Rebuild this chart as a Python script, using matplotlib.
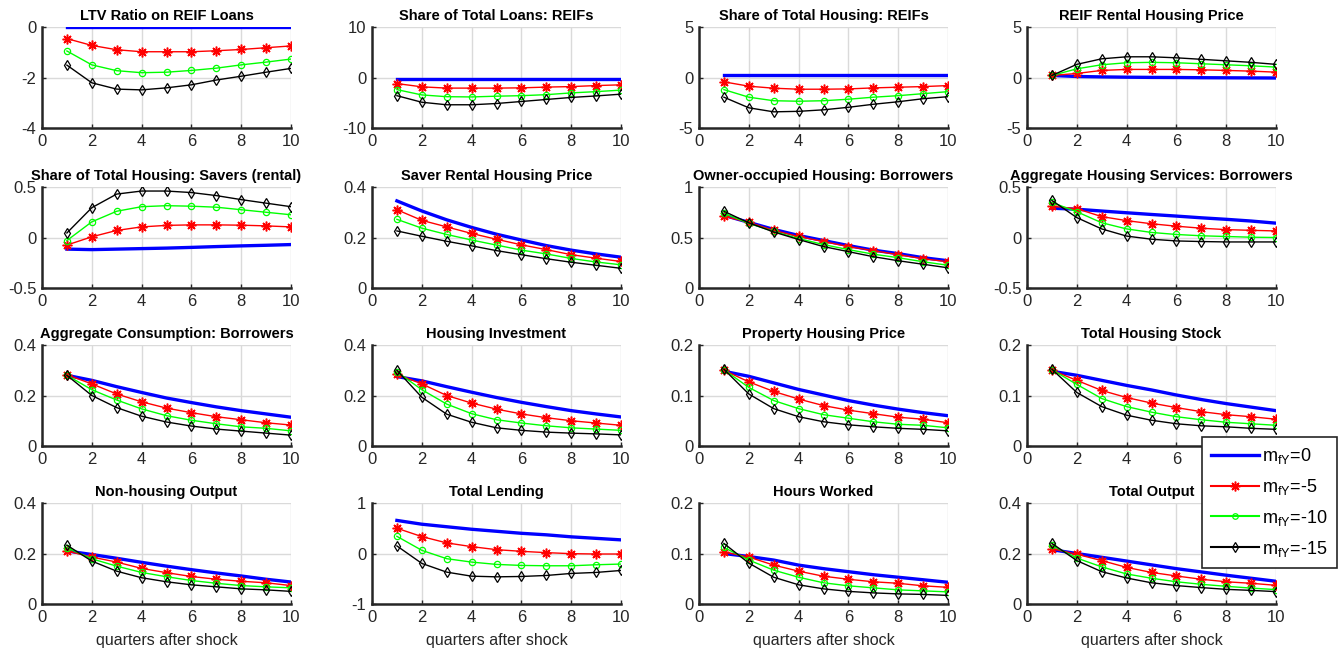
import numpy as np
import matplotlib
matplotlib.use('Agg')
import matplotlib.pyplot as plt
from matplotlib.lines import Line2D

plt.rcParams['font.family'] = ['Liberation Sans', 'DejaVu Sans']
plt.rcParams['mathtext.default'] = 'regular'

quarters = np.arange(1, 11)

titles = ['LTV Ratio on REIF Loans', 'Share of Total Loans: REIFs',
          'Share of Total Housing: REIFs', 'REIF Rental Housing Price',
          'Share of Total Housing: Savers (rental)', 'Saver Rental Housing Price',
          'Owner-occupied Housing: Borrowers', 'Aggregate Housing Services: Borrowers',
          'Aggregate Consumption: Borrowers', 'Housing Investment',
          'Property Housing Price', 'Total Housing Stock',
          'Non-housing Output', 'Total Lending', 'Hours Worked', 'Total Output']

ylims = [(-4, 0), (-10, 10), (-5, 5), (-5, 5),
         (-0.5, 0.5), (0, 0.4), (0, 1), (-0.5, 0.5),
         (0, 0.4), (0, 0.4), (0, 0.2), (0, 0.2),
         (0, 0.4), (-1, 1), (0, 0.2), (0, 0.4)]

# m_fY = 0
m0 = [
    [0, 0, 0, 0, 0, 0, 0, 0, 0, 0],
    [-0.2, -0.2, -0.2, -0.2, -0.2, -0.2, -0.2, -0.2, -0.2, -0.2],
    [0.2, 0.2, 0.2, 0.2, 0.2, 0.2, 0.2, 0.2, 0.2, 0.2],
    [0.2, 0.1, 0.06, 0.03, 0.01, 0.0, -0.02, -0.03, -0.04, -0.05],
    [-0.115, -0.12, -0.115, -0.11, -0.105, -0.098, -0.09, -0.083, -0.077, -0.07],
    [0.345, 0.305, 0.27, 0.24, 0.213, 0.19, 0.168, 0.15, 0.135, 0.122],
    [0.72, 0.65, 0.58, 0.52, 0.47, 0.42, 0.375, 0.34, 0.30, 0.27],
    [0.29, 0.28, 0.262, 0.245, 0.228, 0.212, 0.195, 0.18, 0.163, 0.142],
    [0.28, 0.26, 0.235, 0.212, 0.19, 0.172, 0.155, 0.14, 0.127, 0.114],
    [0.275, 0.258, 0.235, 0.213, 0.192, 0.173, 0.156, 0.14, 0.127, 0.115],
    [0.148, 0.138, 0.125, 0.112, 0.101, 0.09, 0.081, 0.073, 0.066, 0.06],
    [0.148, 0.14, 0.13, 0.12, 0.111, 0.101, 0.092, 0.084, 0.077, 0.07],
    [0.21, 0.196, 0.181, 0.165, 0.15, 0.136, 0.123, 0.111, 0.098, 0.087],
    [0.655, 0.58, 0.53, 0.48, 0.44, 0.4, 0.37, 0.33, 0.3, 0.27],
    [0.1, 0.094, 0.087, 0.077, 0.07, 0.064, 0.058, 0.053, 0.048, 0.043],
    [0.215, 0.2, 0.185, 0.17, 0.155, 0.14, 0.127, 0.114, 0.102, 0.09],
]

# m_fY = -5
m5 = [
    [-0.46, -0.73, -0.9, -0.98, -0.98, -0.98, -0.94, -0.89, -0.82, -0.75],
    [-1.2, -1.85, -2.1, -2.1, -2.1, -2.05, -1.9, -1.8, -1.6, -1.45],
    [-0.43, -0.86, -1.06, -1.16, -1.16, -1.13, -1.03, -0.96, -0.9, -0.8],
    [0.2, 0.4, 0.7, 0.8, 0.8, 0.8, 0.76, 0.7, 0.63, 0.53],
    [-0.075, 0.007, 0.07, 0.105, 0.12, 0.125, 0.125, 0.122, 0.115, 0.105],
    [0.31, 0.268, 0.242, 0.216, 0.193, 0.171, 0.152, 0.132, 0.118, 0.105],
    [0.71, 0.65, 0.57, 0.51, 0.46, 0.41, 0.37, 0.33, 0.29, 0.26],
    [0.31, 0.285, 0.207, 0.167, 0.136, 0.112, 0.092, 0.078, 0.071, 0.065],
    [0.282, 0.246, 0.206, 0.175, 0.15, 0.132, 0.116, 0.104, 0.092, 0.083],
    [0.284, 0.246, 0.2, 0.17, 0.146, 0.127, 0.112, 0.1, 0.091, 0.082],
    [0.15, 0.127, 0.108, 0.093, 0.08, 0.071, 0.064, 0.057, 0.053, 0.046],
    [0.15, 0.13, 0.11, 0.096, 0.085, 0.076, 0.068, 0.062, 0.058, 0.053],
    [0.21, 0.186, 0.166, 0.141, 0.124, 0.109, 0.098, 0.09, 0.084, 0.073],
    [0.5, 0.335, 0.21, 0.136, 0.076, 0.043, 0.017, -0.003, -0.01, -0.01],
    [0.103, 0.093, 0.077, 0.065, 0.055, 0.049, 0.044, 0.041, 0.036, 0.033],
    [0.219, 0.197, 0.172, 0.145, 0.125, 0.111, 0.098, 0.088, 0.082, 0.074],
]

# m_fY = -10
m10 = [
    [-0.95, -1.5, -1.73, -1.81, -1.79, -1.72, -1.63, -1.5, -1.39, -1.27],
    [-2.4, -3.45, -3.8, -3.85, -3.7, -3.6, -3.4, -3.05, -2.8, -2.5],
    [-1.2, -1.95, -2.3, -2.35, -2.3, -2.15, -1.95, -1.8, -1.6, -1.4],
    [0.2, 0.86, 1.26, 1.46, 1.5, 1.46, 1.36, 1.26, 1.16, 1.03],
    [-0.03, 0.155, 0.26, 0.305, 0.315, 0.31, 0.3, 0.275, 0.25, 0.225],
    [0.272, 0.237, 0.212, 0.19, 0.17, 0.15, 0.135, 0.117, 0.103, 0.092],
    [0.74, 0.64, 0.56, 0.49, 0.43, 0.38, 0.335, 0.30, 0.26, 0.225],
    [0.347, 0.255, 0.146, 0.085, 0.05, 0.03, 0.017, 0.01, 0.003, 0.0],
    [0.28, 0.223, 0.182, 0.147, 0.12, 0.102, 0.088, 0.076, 0.07, 0.06],
    [0.294, 0.223, 0.166, 0.128, 0.104, 0.091, 0.08, 0.072, 0.067, 0.062],
    [0.151, 0.116, 0.09, 0.074, 0.062, 0.055, 0.048, 0.043, 0.041, 0.036],
    [0.151, 0.122, 0.094, 0.078, 0.067, 0.058, 0.052, 0.047, 0.044, 0.041],
    [0.223, 0.179, 0.15, 0.125, 0.108, 0.093, 0.082, 0.073, 0.068, 0.064],
    [0.34, 0.063, -0.103, -0.17, -0.216, -0.236, -0.243, -0.243, -0.223, -0.209],
    [0.112, 0.087, 0.067, 0.053, 0.042, 0.036, 0.032, 0.028, 0.026, 0.024],
    [0.232, 0.182, 0.147, 0.119, 0.102, 0.088, 0.078, 0.07, 0.063, 0.057],
]

# m_fY = -15
m15 = [
    [-1.51, -2.21, -2.46, -2.49, -2.41, -2.29, -2.1, -1.95, -1.79, -1.64],
    [-3.6, -4.9, -5.4, -5.4, -5.15, -4.75, -4.35, -3.95, -3.65, -3.3],
    [-1.95, -3.0, -3.4, -3.35, -3.2, -2.95, -2.65, -2.4, -2.1, -1.9],
    [0.2, 1.3, 1.85, 2.05, 2.05, 1.95, 1.8, 1.65, 1.5, 1.3],
    [0.045, 0.295, 0.43, 0.46, 0.46, 0.445, 0.415, 0.375, 0.34, 0.305],
    [0.226, 0.205, 0.185, 0.167, 0.148, 0.132, 0.116, 0.102, 0.09, 0.078],
    [0.76, 0.645, 0.555, 0.48, 0.41, 0.36, 0.31, 0.27, 0.235, 0.2],
    [0.367, 0.197, 0.085, 0.014, -0.017, -0.034, -0.04, -0.044, -0.044, -0.044],
    [0.28, 0.2, 0.152, 0.118, 0.095, 0.079, 0.067, 0.059, 0.051, 0.043],
    [0.3, 0.193, 0.126, 0.094, 0.072, 0.062, 0.055, 0.051, 0.048, 0.044],
    [0.152, 0.103, 0.074, 0.058, 0.048, 0.042, 0.038, 0.035, 0.033, 0.03],
    [0.152, 0.106, 0.078, 0.061, 0.051, 0.044, 0.04, 0.038, 0.035, 0.033],
    [0.233, 0.17, 0.13, 0.104, 0.088, 0.076, 0.068, 0.06, 0.056, 0.05],
    [0.15, -0.196, -0.369, -0.449, -0.462, -0.455, -0.435, -0.395, -0.375, -0.336],
    [0.12, 0.081, 0.053, 0.038, 0.03, 0.025, 0.022, 0.02, 0.019, 0.017],
    [0.24, 0.172, 0.128, 0.103, 0.084, 0.073, 0.065, 0.058, 0.054, 0.049],
]

legend_labels = ['m$_{fY}$=0', 'm$_{fY}$=-5', 'm$_{fY}$=-10', 'm$_{fY}$=-15']

W, H = 1341, 652
fig = plt.figure(figsize=(W / 100, H / 100), dpi=100)

col_left = [42, 372, 699, 1027]
row_top = [27, 187, 345, 503]
ax_w, ax_h = 249, 101
txt = '#262626'
star = (8, 2, 0)

for i in range(16):
    r, c = divmod(i, 4)
    ax = fig.add_axes([col_left[c] / W, (H - row_top[r] - ax_h) / H, ax_w / W, ax_h / H])
    ax.plot(quarters, m0[i], color='#0000ff', lw=2.4)
    ax.plot(quarters, m5[i], color='#ff0000', lw=1, marker=star, ms=7, mew=1.1)
    ax.plot(quarters, m10[i], color='#00ff00', lw=1, marker='o', ms=4.5, mfc='none', mew=0.9)
    ax.plot(quarters, m15[i], color='black', lw=1, marker='d', ms=5.5, mfc='none', mew=0.9)
    lo, hi = ylims[i]
    ax.set_ylim(lo, hi)
    ax.set_yticks([lo, (lo + hi) / 2, hi])
    ax.set_yticklabels(['%g' % v for v in [lo, (lo + hi) / 2, hi]])
    ax.set_xlim(0, 10)
    ax.set_xticks([0, 2, 4, 6, 8, 10])
    ax.grid(True, color='#dadada', lw=1)
    ax.set_axisbelow(True)
    for s in ['top', 'right']:
        ax.spines[s].set_visible(False)
    for s in ['left', 'bottom']:
        ax.spines[s].set_color(txt)
        ax.spines[s].set_linewidth(1.8)
    ax.tick_params(direction='in', length=3, width=1, colors=txt, labelsize=12, pad=4)
    ax.set_title(titles[i], fontsize=10.5, fontweight='bold', color='black', pad=5)
    if r == 3:
        ax.set_xlabel('quarters after shock', fontsize=11.5, color=txt, labelpad=6)

handles = [
    Line2D([], [], color='#0000ff', lw=2.4),
    Line2D([], [], color='#ff0000', lw=1.5, marker=star, ms=7, mew=1.1),
    Line2D([], [], color='#00ff00', lw=1.5, marker='o', ms=4, mfc='none', mew=0.9),
    Line2D([], [], color='black', lw=1.5, marker='d', ms=5, mfc='none', mew=0.9),
]
leg = fig.legend(handles, legend_labels, loc='upper left', bbox_to_anchor=(1202 / W, 1 - 437 / H),
                 borderaxespad=0, fontsize=13, handlelength=2.65, handletextpad=0.2,
                 labelspacing=0.6, fancybox=False, framealpha=1, edgecolor=txt,
                 borderpad=0.5)
leg.get_frame().set_linewidth(1.2)

fig.savefig('out.png', dpi=100)
